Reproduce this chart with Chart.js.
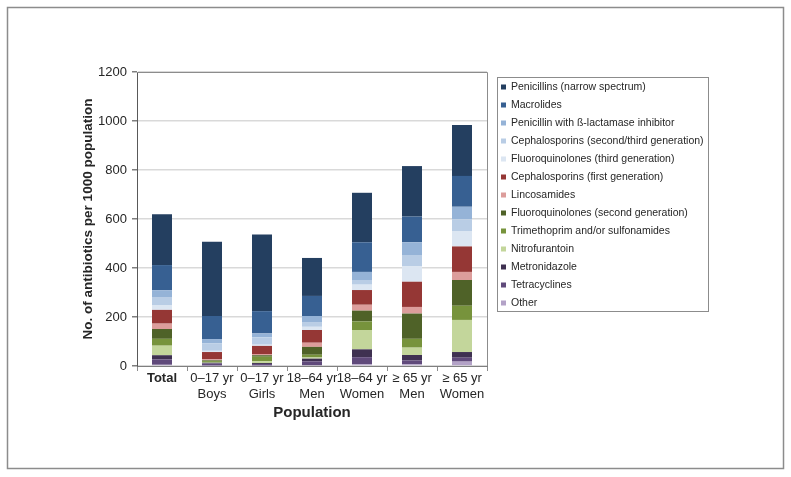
<!DOCTYPE html>
<html>
<head>
<meta charset="utf-8">
<script src="https://cdn.jsdelivr.net/npm/chart.js@4/dist/chart.umd.min.js"></script>
<style>
html,body{margin:0;padding:0;background:#fff;}
#wrap{position:relative;width:791px;height:477px;}
</style>
</head>
<body>
<div id="wrap"><canvas id="c" width="791" height="477"></canvas></div>
<script>
// ---- data ----
const categories = [["Total"], ["0–17 yr","Boys"], ["0–17 yr","Girls"], ["18–64 yr","Men"], ["18–64 yr","Women"], ["≥ 65 yr","Men"], ["≥ 65 yr","Women"]];
const yTicks = [0, 200, 400, 600, 800, 1000, 1200];
// series listed bottom of stack first
const other          = [5, 2, 2, 3, 7, 7, 18];
const tetracyclines  = [22, 8, 6, 16, 29, 16, 16];
const metronidazole  = [17, 3, 4, 11, 32, 22, 23];
const nitrofurantoin = [39, 1, 8, 5, 79, 30, 131];
const trimethoprim   = [28, 6, 18, 11, 35, 36, 58];
const fluoroq2       = [40, 3, 6, 32, 44, 103, 105];
const lincosamides   = [22, 4, 5, 17, 24, 27, 33];
const cephalo1       = [56, 30, 33, 52, 60, 103, 104];
const fluoroq3       = [20, 5, 5, 13, 22, 64, 63];
const cephalo23      = [30, 30, 30, 17, 19, 45, 48];
const penBL          = [30, 18, 16, 27, 33, 52, 51];
const macrolides     = [103, 94, 91, 82, 121, 105, 126];
const penNarrow      = [207, 303, 313, 155, 202, 206, 208];

const series = [
  {label: "Other", data: other, color: "#b3a2c7"},
  {label: "Tetracyclines", data: tetracyclines, color: "#604a7b"},
  {label: "Metronidazole", data: metronidazole, color: "#3f3151"},
  {label: "Nitrofurantoin", data: nitrofurantoin, color: "#c3d69b"},
  {label: "Trimethoprim and/or sulfonamides", data: trimethoprim, color: "#77933c"},
  {label: "Fluoroquinolones (second generation)", data: fluoroq2, color: "#4f6228"},
  {label: "Lincosamides", data: lincosamides, color: "#dc9d9b"},
  {label: "Cephalosporins (first generation)", data: cephalo1, color: "#953735"},
  {label: "Fluoroquinolones (third generation)", data: fluoroq3, color: "#dce6f2"},
  {label: "Cephalosporins (second/third generation)", data: cephalo23, color: "#b9cde5"},
  {label: "Penicillin with ß-lactamase inhibitor", data: penBL, color: "#95b3d7"},
  {label: "Macrolides", data: macrolides, color: "#376092"},
  {label: "Penicillins (narrow spectrum)", data: penNarrow, color: "#243f60"}
];

const FONT = "'Liberation Sans', Arial, sans-serif";

const framePlugin = {
  id: 'frame',
  beforeDraw(chart) {
    const ctx = chart.ctx;
    ctx.save();
    ctx.fillStyle = '#fff';
    ctx.fillRect(0, 0, chart.width, chart.height);
    ctx.strokeStyle = '#8c8c8c';
    ctx.lineWidth = 1.5;
    ctx.strokeRect(7.5, 7.5, 776, 461);
    ctx.restore();
  },
  afterDatasetsDraw(chart) {
    const ctx = chart.ctx;
    const a = chart.chartArea;
    ctx.save();
    ctx.strokeStyle = '#8c8c8c';
    ctx.lineWidth = 1;
    ctx.beginPath();
    ctx.moveTo(a.left, a.top + 0.5);
    ctx.lineTo(a.right + 0.5, a.top + 0.5);
    ctx.lineTo(a.right + 0.5, a.bottom);
    ctx.stroke();
    ctx.restore();
  }
};

const legendPlugin = {
  id: 'boxLegend',
  afterDraw(chart) {
    const ctx = chart.ctx;
    ctx.save();
    const bx = 497.5, by = 77.5, bw = 211, bh = 234;
    ctx.strokeStyle = '#8c8c8c';
    ctx.lineWidth = 1;
    ctx.strokeRect(bx, by, bw, bh);
    ctx.font = "10.5px " + FONT;
    ctx.textBaseline = 'middle';
    ctx.textAlign = 'left';
    const items = chart.data.datasets.slice().reverse();
    items.forEach((ds, i) => {
      const y = 87 + i * 18;
      ctx.fillStyle = ds.backgroundColor;
      ctx.fillRect(501, y - 2.5, 5, 5);
      ctx.fillStyle = '#262626';
      ctx.fillText(ds.label, 511, y);
    });
    ctx.restore();
  }
};

new Chart(document.getElementById('c'), {
  type: 'bar',
  data: {
    labels: categories,
    datasets: series.map(s => ({
      label: s.label,
      data: s.data,
      backgroundColor: s.color,
      borderWidth: 0,
      barPercentage: 0.4,
      categoryPercentage: 1.0
    }))
  },
  options: {
    responsive: false,
    animation: false,
    devicePixelRatio: 1,
    layout: {padding: {left: 80, top: 72, right: 304, bottom: 0}},
    plugins: {legend: {display: false}, tooltip: {enabled: false}},
    scales: {
      x: {
        stacked: true,
        afterFit(scale) { scale.height = 111; },
        grid: {display: true, drawOnChartArea: false, offset: true, tickLength: 5, color: '#8c8c8c'},
        border: {color: '#7f7f7f', width: 1},
        ticks: {
          color: '#262626',
          padding: 0,
          maxRotation: 0,
          autoSkip: false,
          font: (ctx) => ({family: FONT, size: 13, weight: ctx.index === 0 ? 'bold' : 'normal', lineHeight: 1.2})
        },
        title: {display: true, text: 'Population', color: '#262626',
          font: {family: FONT, size: 15, weight: 'bold'}, padding: {top: 0, bottom: 55}}
      },
      y: {
        stacked: true,
        min: 0, max: 1200,
        afterFit(scale) { scale.width = 57; },
        afterBuildTicks(scale) { scale.ticks = yTicks.map(v => ({value: v})); },
        grid: {color: '#d9d9d9', lineWidth: 1.5, tickLength: 5, tickColor: '#7f7f7f'},
        border: {color: '#595959', width: 1},
        ticks: {color: '#262626', padding: 5, font: {family: FONT, size: 13},
          callback: (v) => String(v)},
        title: {display: true, text: 'No. of antibiotics per 1000 population', color: '#262626',
          font: {family: FONT, size: 13.5, weight: 'bold'}, padding: {top: 0, bottom: 0}}
      }
    }
  },
  plugins: [framePlugin, legendPlugin]
});
</script>
</body>
</html>
